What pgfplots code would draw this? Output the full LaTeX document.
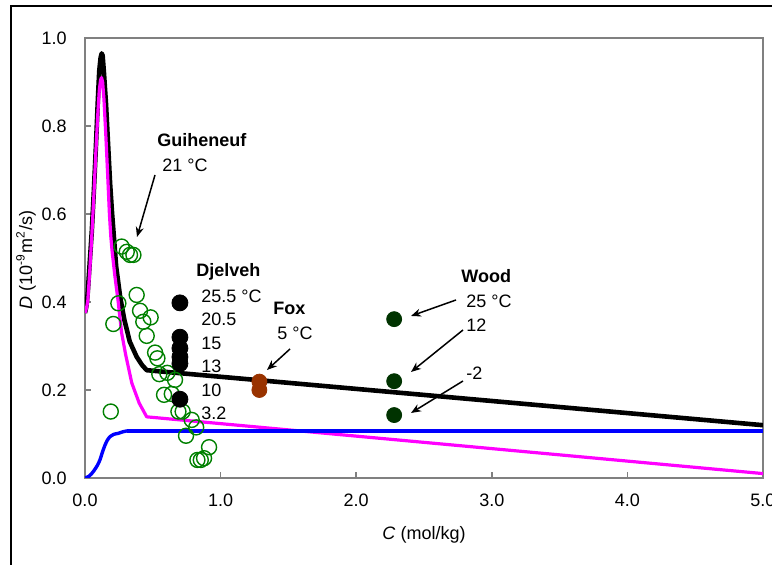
\documentclass[border=0pt]{standalone}
\usepackage{fontspec}
\setmainfont{Liberation Sans}
\usepackage{pgfplots}
\pgfplotsset{compat=1.18}
\usetikzlibrary{arrows.meta}
\definecolor{ggreen}{RGB}{0,128,0}
\definecolor{foxc}{RGB}{153,51,0}
\definecolor{woodc}{RGB}{0,51,0}
\definecolor{axgray}{RGB}{128,128,128}
\definecolor{mag}{RGB}{255,0,255}
\definecolor{blu}{RGB}{0,0,255}
\begin{document}
\fontsize{9}{11}\selectfont
\begin{tikzpicture}
\useasboundingbox (0,0) rectangle (386pt,282.5pt);
\begin{axis}[
  at={(42.5pt,43.5pt)}, anchor=south west,
  scale only axis, width=339pt, height=220pt,
  xmin=0, xmax=5, ymin=0, ymax=1,
  xtick={0,1,2,3,4,5}, ytick={0,0.2,0.4,0.6,0.8,1.0},
  tick pos=left, tick align=inside, major tick length=3pt,
  axis line style={axgray, line width=1pt},
  tick style={axgray, line width=0.8pt},
  /pgf/number format/.cd, fixed, fixed zerofill, precision=1, assume math mode=true,
  /pgfplots/.cd,
  xticklabel style={yshift=-5pt},
  yticklabel style={xshift=-6pt},
]
% Black model curve
\addplot[black, line width=2.3pt, line join=round] coordinates {
(0,0.375)(0.01,0.39)(0.02,0.42)(0.035,0.49)(0.05,0.56)(0.065,0.65)(0.08,0.75)(0.095,0.86)
(0.105,0.925)(0.115,0.955)(0.123,0.965)(0.13,0.96)(0.14,0.92)(0.155,0.85)(0.17,0.76)
(0.185,0.67)(0.2,0.6)(0.21,0.56)(0.23,0.48)(0.26,0.41)(0.29,0.36)(0.33,0.31)(0.38,0.276)
(0.42,0.257)(0.455,0.245)(5.0,0.12)};
% Magenta model curve
\addplot[mag, line width=1.6pt, line join=round] coordinates {
(0,0.375)(0.01,0.385)(0.02,0.40)(0.035,0.47)(0.05,0.55)(0.065,0.64)(0.08,0.74)(0.095,0.83)
(0.105,0.88)(0.115,0.905)(0.122,0.91)(0.13,0.9)(0.14,0.86)(0.155,0.77)(0.17,0.67)(0.18,0.6)
(0.19,0.55)(0.2,0.515)(0.22,0.46)(0.245,0.40)(0.27,0.33)(0.3,0.28)(0.345,0.216)(0.4,0.17)
(0.455,0.139)(5.0,0.01)};
% Blue model curve
\addplot[blu, line width=1.7pt, smooth] coordinates {
(0,0)(0.03,0.004)(0.06,0.014)(0.09,0.028)(0.11,0.041)(0.13,0.06)(0.148,0.075)(0.165,0.086)
(0.185,0.094)(0.21,0.099)(0.246,0.1015)(0.28,0.105)(0.31,0.107)};
\addplot[blu, line width=1.7pt] coordinates {(0.31,0.107)(5.0,0.107)};
% Guiheneuf
\addplot[only marks, mark=o, mark size=3.75pt, ggreen, mark options={line width=0.7pt}] coordinates {
(0.27,0.526)(0.308,0.514)(0.332,0.507)(0.357,0.507)(0.246,0.397)(0.209,0.35)(0.381,0.416)
(0.406,0.38)(0.43,0.355)(0.484,0.365)(0.455,0.323)(0.517,0.285)(0.534,0.272)(0.548,0.236)
(0.607,0.239)(0.664,0.223)(0.583,0.189)(0.64,0.191)(0.19,0.151)(0.689,0.151)(0.72,0.151)
(0.787,0.132)(0.82,0.115)(0.745,0.096)(0.915,0.07)(0.829,0.041)(0.854,0.041)(0.878,0.045)};
% Djelveh
\addplot[only marks, mark=*, mark size=4pt, black] coordinates {
(0.70,0.398)(0.70,0.32)(0.70,0.295)(0.70,0.275)(0.70,0.26)(0.70,0.179)};
% Fox
\addplot[only marks, mark=*, mark size=3.75pt, foxc] coordinates {
(1.286,0.219)(1.286,0.20)};
% Wood
\addplot[only marks, mark=*, mark size=3.75pt, woodc] coordinates {
(2.28,0.361)(2.28,0.22)(2.28,0.143)};
\end{axis}
\begin{scope}[x=0.5pt, y=-0.5pt, shift={(0pt,282.5pt)}]
\draw[black, line width=1pt] (11,570) -- (11,6) -- (780,6);
\node[rotate=90] at (26,260) {\textit{D} (10\textsuperscript{-9}m\textsuperscript{2}/s)};
\node at (424,535) {\textit{C} (mol/kg)};
\tikzset{lab/.style={anchor=base west, inner sep=0pt}}
\node[lab] at (157,147) {\textbf{Guiheneuf}};
\node[lab] at (162,172) {21 °C};
\node[lab] at (196,277) {\textbf{Djelveh}};
\node[lab] at (201,303) {25.5 °C};
\node[lab] at (201,326) {20.5};
\node[lab] at (201,350) {15};
\node[lab] at (201,373) {13};
\node[lab] at (201,397) {10};
\node[lab] at (201,420) {3.2};
\node[lab] at (273,315) {\textbf{Fox}};
\node[lab] at (277,340) {5 °C};
\node[lab] at (461,283) {\textbf{Wood}};
\node[lab] at (466,308) {25 °C};
\node[lab] at (466,332) {12};
\node[lab] at (466,380) {-2};
\tikzset{arr/.style={-{Stealth[length=5pt,width=4pt]}, line width=0.75pt, black}}
\draw[arr] (155,175) -- (137,237);
\draw[arr] (290,349) -- (267,370);
\draw[arr] (456,300) -- (411,316);
\draw[arr] (463,330) -- (411,372);
\draw[arr] (463,381) -- (411,413);
\end{scope}
\end{tikzpicture}
\end{document}
